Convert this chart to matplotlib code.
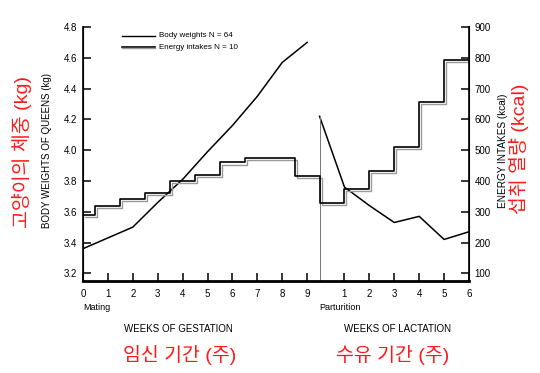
import matplotlib
matplotlib.use("Agg")
import matplotlib.pyplot as plt
import numpy as np

plt.rcParams['font.family'] = ['Liberation Sans', 'Noto Sans CJK KR', 'DejaVu Sans']

# body weights of queens (kg)
gest_weeks = [0, 1, 2, 3, 4, 5, 6, 7, 8, 9]
gest_weight = [3.36, 3.43, 3.50, 3.66, 3.81, 3.99, 4.16, 4.35, 4.57, 4.70]
lact_weeks = [0, 1, 2, 3, 4, 5, 6]
lact_weight = [4.22, 3.76, 3.64, 3.53, 3.57, 3.42, 3.47]

# energy intakes (kcal), step edges in weeks
gest_energy_edges = [0, 0.5, 1.5, 2.5, 3.5, 4.5, 5.5, 6.5, 8.5, 9.5]
gest_energy_kcal = [290, 320, 342, 362, 400, 420, 460, 475, 415]
lact_energy_edges = [0, 1, 2, 3, 4, 5, 6]
lact_energy_kcal = [330, 375, 432, 511, 658, 794]

gest_ticks = [0, 1, 2, 3, 4, 5, 6, 7, 8, 9]
lact_ticks = [1, 2, 3, 4, 5, 6]
parturition = 9.5  # lactation week 0 sits at gestation 9.5 on the shared axis

W, H = 540, 373
fig = plt.figure(figsize=(W / 100, H / 100), dpi=100)
ax = fig.add_axes([83 / W, 1 - 281 / H, (469 - 83) / W, (281 - 25.5) / H])
ax2 = ax.twinx()

ax.set_xlim(0, parturition + 6)
ax.set_ylim(3.15, 4.81)
ax2.set_ylim(900 + (3.15 - 4.8) * 500, 900 + (4.81 - 4.8) * 500)

# energy step line (double line: grey + black)
xs = list(gest_energy_edges) + [parturition + e for e in lact_energy_edges[1:]]
ys = list(gest_energy_kcal) + list(lact_energy_kcal)
ys_step = ys + [ys[-1]]
ax2.step(np.array(xs) + 0.08, np.array(ys_step) - 7, where='post', color='#9a9a9a', lw=1.0)
ax2.step(xs, ys_step, where='post', color='black', lw=1.2)

# body weights
ax.plot(gest_weeks, gest_weight, color='black', lw=1.1)
ax.plot([parturition + w for w in lact_weeks], lact_weight, color='black', lw=1.1)
ax.plot([parturition, parturition], [3.15, lact_weight[0]], color='#777777', lw=0.7)

# spines
for a in (ax, ax2):
    a.spines['top'].set_visible(False)
ax.spines['bottom'].set_linewidth(2)
ax.spines['left'].set_bounds(3.15, 4.8)
ax2.spines['right'].set_bounds(75, 900)
ax.spines['left'].set_linewidth(1.2)
ax2.spines['right'].set_linewidth(1.2)

ax.set_yticks([3.2, 3.4, 3.6, 3.8, 4.0, 4.2, 4.4, 4.6, 4.8])
ax.set_yticklabels(['3.2', '3.4', '3.6', '3.8', '4.0', '4.2', '4.4', '4.6', '4.8'])
ax2.set_yticks([100, 200, 300, 400, 500, 600, 700, 800, 900])
ax.set_xticks(gest_ticks + [parturition + w for w in lact_ticks])
ax.set_xticklabels([str(t) for t in gest_ticks] + [str(t) for t in lact_ticks])

ax.tick_params(axis='y', direction='in', length=6, width=1.1, labelsize=7, pad=4)
ax2.tick_params(axis='y', direction='in', length=6, width=1.1, labelsize=7, pad=4)
ax.tick_params(axis='x', direction='in', length=6, width=1.1, labelsize=7, pad=6)

# legend drawn by hand
lx0, lx1 = 1.55, 2.9
ax.plot([lx0, lx1], [4.745, 4.745], color='black', lw=1.0)
ax.text(3.05, 4.745, 'Body weights N = 64', fontsize=5.8, va='center')
ax.plot([lx0, lx1], [4.672, 4.672], color='black', lw=1.2)
ax.plot([lx0, lx1], [4.662, 4.662], color='#9a9a9a', lw=1.0)
ax.text(3.05, 4.667, 'Energy intakes N = 10', fontsize=5.8, va='center')

# axis titles
fig.text(47 / W, 1 - 150 / H, 'BODY WEIGHTS OF QUEENS (kg)', rotation=90,
         ha='center', va='center', fontsize=7)
fig.text(503 / W, 1 - 151 / H, 'ENERGY INTAKES (kcal)', rotation=90,
         ha='center', va='center', fontsize=7.2)
fig.text(83 / W, 1 - 308 / H, 'Mating', fontsize=6.5, va='center')
fig.text(319 / W, 1 - 308 / H, 'Parturition', fontsize=6.5, va='center')
fig.text(178 / W, 1 - 329 / H, 'WEEKS OF GESTATION', fontsize=7, ha='center', va='center')
fig.text(397 / W, 1 - 329 / H, 'WEEKS OF LACTATION', fontsize=7, ha='center', va='center')

# Korean annotations
red = '#ff1a1a'
fig.text(22 / W, 1 - 152 / H, '고양이의 체중 (kg)', rotation=90, color=red,
         ha='center', va='center', fontsize=14)
fig.text(519 / W, 1 - 149 / H, '섭취 열량 (kcal)', rotation=90, color=red,
         ha='center', va='center', fontsize=14)
fig.text(180 / W, 1 - 355 / H, '임신 기간 (주)', color=red,
         ha='center', va='center', fontsize=14)
fig.text(393 / W, 1 - 355 / H, '수유 기간 (주)', color=red,
         ha='center', va='center', fontsize=14)

fig.savefig('out.png', dpi=100)
